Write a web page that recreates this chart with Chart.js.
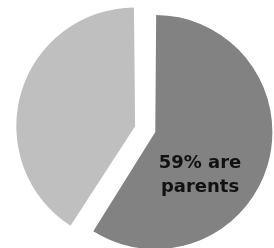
<!DOCTYPE html>
<html>
<head>
<meta charset="utf-8">
<script src="https://cdn.jsdelivr.net/npm/chart.js@4/dist/chart.umd.min.js"></script>
<style>
html,body{margin:0;padding:0;background:#fff;}
#wrap{width:274px;height:248px;position:relative;}
</style>
</head>
<body>
<div id="wrap"><canvas id="c" width="274" height="248"></canvas></div>
<script>
const categories = ["Parents", "Not parents"];
const values = [59, 41];
const labelLines = ["59% are", "parents"];
const sliceColors = ["#828282", "#bfbfbf"];

const labelPlugin = {
  id: 'sliceLabel',
  afterDatasetsDraw(chart) {
    const arc = chart.getDatasetMeta(0).data[0];
    if (!arc) return;
    const {x, y, startAngle, endAngle, outerRadius} = arc.getProps(['x','y','startAngle','endAngle','outerRadius'], true);
    const a = startAngle + 0.634 * (endAngle - startAngle);
    const r = 0.63 * outerRadius;
    const cx = x + Math.cos(a) * r;
    const cy = y + Math.sin(a) * r;
    const ctx = chart.ctx;
    ctx.save();
    ctx.fillStyle = '#111';
    ctx.font = 'bold 18px "DejaVu Sans"';
    ctx.textAlign = 'center';
    ctx.textBaseline = 'alphabetic';
    ctx.fillText(labelLines[0], cx, cy - 12);
    ctx.fillText(labelLines[1], cx, cy + 12);
    ctx.restore();
  }
};

new Chart(document.getElementById('c'), {
  type: 'pie',
  data: {
    labels: categories,
    datasets: [{
      data: values,
      backgroundColor: sliceColors,
      borderWidth: 0,
      offset: [22, 62],
      clip: false
    }]
  },
  options: {
    responsive: false,
    animation: false,
    radius: 111.6,
    rotation: 0,
    layout: {padding: {left: 26, top: 13, right: 0, bottom: 0}},
    plugins: {legend: {display: false}, tooltip: {enabled: false}}
  },
  plugins: [labelPlugin]
});
</script>
</body>
</html>
